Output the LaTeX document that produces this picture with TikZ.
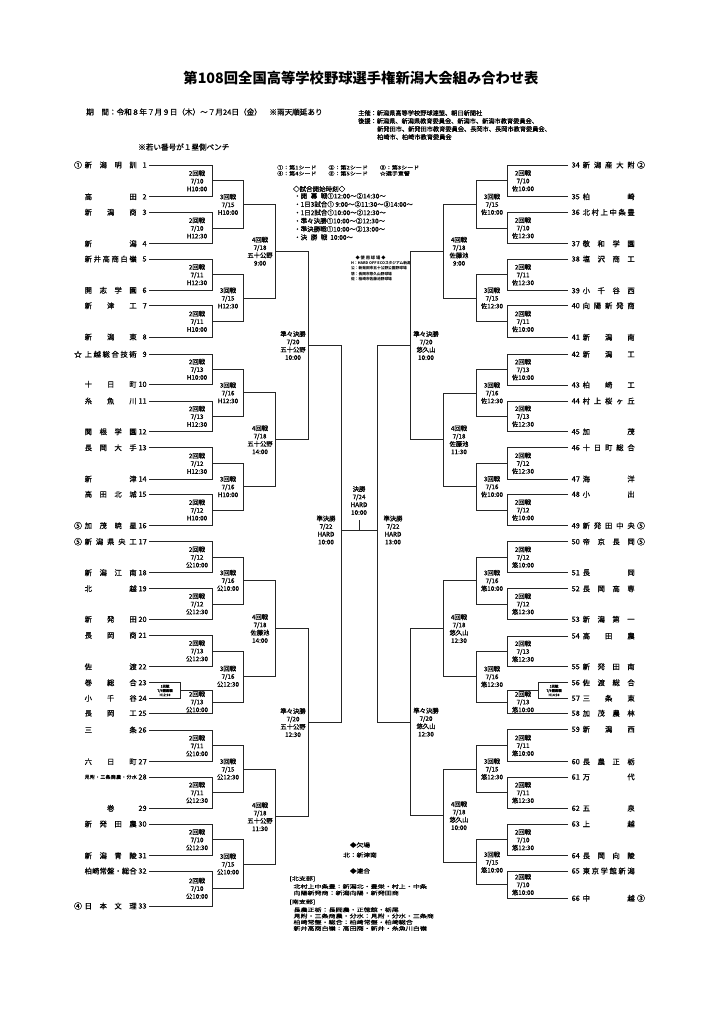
\documentclass[tikz,border=0pt]{standalone}
\usepackage{fontspec}
\setmainfont{Noto Sans CJK JP}
\newfontfamily\jpn[FakeBold=0.7]{Noto Sans CJK JP}
\newfontfamily\jpw[FakeStretch=1.35,FakeBold=0.5]{Noto Sans CJK JP}
\newfontfamily\jpm[FakeStretch=1.2,FakeBold=0.5]{Noto Sans CJK JP}
\usetikzlibrary{calc}
\def\sprd#1{\sprdB#1\sprdend}
\def\sprdB#1#2\sprdend{\ifx\relax#2\relax\hfill#1\hfill\else\sprdA#1#2\sprdend\fi}
\def\sprdA#1#2\sprdend{#1\ifx\relax#2\relax\else\hfill\sprdA#2\sprdend\fi}
\newcommand\lb[3]{#1回戦\\#2\\#3}
\newcommand\mL[5]{%
  \draw[brline] (#2) -- (#2 -| #4) -- (#3 -| #4) -- (#3);
  \coordinate (tmp) at ($(#2)!0.5!(#3)$);
  \coordinate (#1) at (tmp -| #4);
  \node[mlabel] (#1l) at ($(#1)+(-15,0)$) {#5};
}
\newcommand\mR[5]{%
  \draw[brline] (#2) -- (#2 -| #4) -- (#3 -| #4) -- (#3);
  \coordinate (tmp) at ($(#2)!0.5!(#3)$);
  \coordinate (#1) at (tmp -| #4);
  \node[mlabel] (#1l) at ($(#1)+(16,0)$) {#5};
}
\begin{document}
\begin{tikzpicture}[x=1pt,y=-1pt,
  brline/.style={line width=0.8pt, draw=black!85},
  mlabel/.style={font=\jpn\fontsize{6.3}{7.8}\selectfont, align=center, inner sep=0pt},
  tlabel/.style={font=\jpn\fontsize{3.4}{4.3}\selectfont, align=center, inner sep=0pt},
  tname/.style={font=\jpn\fontsize{7.3}{8}\selectfont, inner sep=0pt},
  tmark/.style={font=\jpn\fontsize{8}{8}\selectfont, inner sep=0pt},
  hdtext/.style={anchor=west, inner sep=0pt}]
\useasboundingbox (0,0) rectangle (720,1019);
\fill[white] (0,0) rectangle (720,1019);

% ---------- header ----------
\node[font=\fontsize{14.3}{16}\selectfont\bfseries] (title) at (361,78) {第108回全国高等学校野球選手権新潟大会組み合わせ表};
\node[hdtext, font=\jpn\fontsize{7.6}{9}\selectfont] (kikan) at (86,112) {期　間：令和８年７月９日（木）〜７月24日（金）　※雨天順延あり};
\node[hdtext, font=\jpn\fontsize{6.2}{7}\selectfont] (h1) at (358,113) {主催：新潟県高等学校野球連盟、朝日新聞社};
\node[hdtext, font=\jpn\fontsize{6.2}{7}\selectfont] (h2) at (358,121) {後援：新潟県、新潟県教育委員会、新潟市、新潟市教育委員会、};
\node[hdtext, font=\jpn\fontsize{6.2}{7}\selectfont] (h3) at (377,129) {新発田市、新発田市教育委員会、長岡市、長岡市教育委員会、};
\node[hdtext, font=\jpn\fontsize{6.2}{7}\selectfont] (h4) at (377,137) {柏崎市、柏崎市教育委員会};
\node[hdtext, font=\jpn\fontsize{7.6}{9}\selectfont] (note) at (138,147) {※若い番号が１塁側ベンチ};

% ---------- legend top ----------
\node[hdtext, font=\jpm\fontsize{5}{6}\selectfont] (sd1) at (277,167.5) {①：第1シード　　②：第2シード　　③：第3シード};
\node[hdtext, font=\jpm\fontsize{5}{6}\selectfont] (sd2) at (277,173.5) {④：第4シード　　⑤：第5シード　　☆選手宣誓};
\node[hdtext, font=\jpn\fontsize{6.5}{8}\selectfont] (tm0) at (293,189) {◇試合開始時刻◇};
\node[hdtext, font=\jpn\fontsize{6.5}{8}\selectfont] (tm1) at (294,196) {・\makebox[4.1em][s]{開\hfill 幕\hfill 戦}①12:00〜②14:30〜};
\node[hdtext, font=\jpn\fontsize{6.5}{8}\selectfont] (tm2) at (294,204.3) {・1日3試合①\ 9:00〜②11:30〜③14:00〜};
\node[hdtext, font=\jpn\fontsize{6.5}{8}\selectfont] (tm3) at (294,212.6) {・1日2試合①10:00〜②12:30〜};
\node[hdtext, font=\jpn\fontsize{6.5}{8}\selectfont] (tm4) at (294,220.9) {・準々決勝①10:00〜②12:30〜};
\node[hdtext, font=\jpn\fontsize{6.5}{8}\selectfont] (tm5) at (294,229.1) {・準決勝戦①10:00〜②13:00〜};
\node[hdtext, font=\jpn\fontsize{6.5}{8}\selectfont] (tm6) at (294,237.3) {・\makebox[4.1em][s]{決\hfill 勝\hfill 戦}\ \ 10:00〜};
\node[inner sep=0pt, font=\fontsize{4.2}{5}\selectfont\bfseries] (vh) at (370.5,258.3) {◆\ 使\ 用\ 球\ 場\ ◆};
\node[hdtext, font=\fontsize{3.7}{5}\selectfont\bfseries] (v1) at (351,263.4) {H：HARD OFF ECOスタジアム新潟};
\node[hdtext, font=\fontsize{3.7}{5}\selectfont\bfseries] (v2) at (351,268.5) {公：新発田市五十公野公園野球場};
\node[hdtext, font=\fontsize{3.7}{5}\selectfont\bfseries] (v3) at (351,273.6) {悠：長岡市悠久山野球場};
\node[hdtext, font=\fontsize{3.7}{5}\selectfont\bfseries] (v4) at (351,278.7) {佐：柏崎市佐藤池野球場};

% ---------- legend bottom ----------
\node[inner sep=0pt, font=\jpm\fontsize{5.6}{6}\selectfont] (ke) at (360,845) {◆欠場};
\node[inner sep=0pt, font=\jpm\fontsize{5.6}{6}\selectfont] (ke1) at (360,855) {北：新津南};
\node[inner sep=0pt, font=\jpm\fontsize{5.6}{6}\selectfont] (re) at (360,871) {◆連合};
\node[hdtext, font=\jpw\fontsize{5.2}{6}\selectfont] (re1) at (289.3,878.7) {[北支部]};
\node[hdtext, font=\jpw\fontsize{5.2}{6}\selectfont] (re2) at (293.3,886.5) {北村上中条豊：新潟北・豊栄・村上・中条};
\node[hdtext, font=\jpw\fontsize{5.2}{6}\selectfont] (re3) at (293.3,893) {向陽新発商：新潟向陽・新発田商};
\node[hdtext, font=\jpw\fontsize{5.2}{6}\selectfont] (re4) at (289.3,902) {[南支部]};
\node[hdtext, font=\jpw\fontsize{5.2}{6}\selectfont] (re5) at (293.3,909.8) {長農正栃：長岡農・正徳館・栃尾};
\node[hdtext, font=\jpw\fontsize{5.2}{6}\selectfont] (re6) at (293.3,916) {見附・三条商農・分水：見附・分水・三条商};
\node[hdtext, font=\jpw\fontsize{5.2}{6}\selectfont] (re7) at (293.3,922.2) {柏崎常盤・総合：柏崎常盤・柏崎総合};
\node[hdtext, font=\jpw\fontsize{5.2}{6}\selectfont] (re8) at (293.3,928.4) {新井高商白嶺：高田商・新井・糸魚川白嶺};

% ---------- levels ----------
\coordinate (L1) at (180,0); \coordinate (L2) at (212,0); \coordinate (L3) at (243,0);
\coordinate (L4) at (275,0); \coordinate (L5) at (308,0); \coordinate (L6) at (341,0);
\coordinate (R1) at (538,0); \coordinate (R2) at (507,0); \coordinate (R3) at (476,0);
\coordinate (R4) at (443,0); \coordinate (R5) at (410,0); \coordinate (R6) at (377,0);

% ---------- teams left ----------
\foreach \i/\y/\mk/\nm in {1/165/①/新潟明訓, 2/196.7/{}/高田, 3/212.3/{}/新潟商, 4/243.7/{}/新潟,
  5/259/{}/新井高商白嶺, 6/290.3/{}/開志学園, 7/305.7/{}/新津工, 8/337/{}/新潟東,
  9/354.3/☆/上越総合技術, 10/384.3/{}/十日町, 11/401/{}/糸魚川, 12/431.7/{}/関根学園,
  13/447.7/{}/長岡大手, 14/479/{}/新津, 15/494.3/{}/高田北城, 16/525.7/⑤/加茂暁星,
  17/541.7/⑤/新潟県央工, 18/572.7/{}/新潟江南, 19/588.7/{}/北越, 20/619.3/{}/新発田,
  21/635.3/{}/長岡商, 22/666.7/{}/佐渡, 23/682.7/{}/巻総合, 24/698.3/{}/小千谷, 25/713.3/{}/長岡工,
  26/730/{}/三条, 27/761.7/{}/六日町, 29/808.3/{}/巻, 30/824/{}/新発田農,
  31/855.7/{}/新潟青陵, 32/871/{}/柏崎常盤・総合, 33/906/④/日本文理}{
  \coordinate (T\i) at (149,\y);
  \node[tname, anchor=east] (N\i) at (146.8,\y) {\i};
  \node[tname, anchor=west] (M\i) at (84.5,\y) {\makebox[52pt][s]{\expandafter\sprd\expandafter{\nm}}};
  \node[tmark] (K\i) at (78,\y) {\mk};
}
\coordinate (T28) at (149,777);
\node[tname, anchor=east] (N28) at (146.8,777) {28};
\node[tname, anchor=west] (M28) at (84.5,777) {\makebox[52pt][s]{\fontsize{4.8}{5}\selectfont\sprd{見附・三条商農・分水}}};

% ---------- teams right ----------
\foreach \i/\y/\mk/\nm in {34/165/②/新潟産大附, 35/196.7/{}/柏崎, 36/212.3/{}/北村上中条豊, 37/243.7/{}/敬和学園,
  38/259/{}/塩沢商工, 39/290.7/{}/小千谷西, 40/305.7/{}/向陽新発商, 41/337.3/{}/新潟南,
  42/354.3/{}/新潟工, 43/385/{}/柏崎工, 44/401/{}/村上桜ヶ丘, 45/431.7/{}/加茂,
  46/447.7/{}/十日町総合, 47/479/{}/海洋, 48/494.3/{}/小出, 49/525.7/⑤/新発田中央,
  50/541.7/⑤/帝京長岡, 51/572.7/{}/長岡, 52/588.7/{}/長岡高専, 53/619.3/{}/新潟第一,
  54/636/{}/高田農, 55/666.7/{}/新発田南, 56/682.7/{}/佐渡総合, 57/698.3/{}/三条東, 58/713.3/{}/加茂農林,
  59/729.3/{}/新潟西, 60/761.7/{}/長農正栃, 61/777/{}/万代, 62/808.3/{}/五泉,
  63/824/{}/上越, 64/855.7/{}/長岡向陵, 65/871/{}/東京学館新潟, 66/898.3/③/中越}{
  \coordinate (T\i) at (568,\y);
  \node[tname, anchor=west] (N\i) at (571.5,\y) {\i};
  \node[tname, anchor=west] (M\i) at (582.5,\y) {\makebox[52pt][s]{\expandafter\sprd\expandafter{\nm}}};
  \node[tmark] (K\i) at (641,\y) {\mk};
}

% ---------- left bracket ----------
\mL{a1}{T1}{T2}{L2}{\lb{2}{7/10}{H10:00}}
\mL{a2}{T3}{T4}{L2}{\lb{2}{7/10}{H12:30}}
\mL{b1}{a1}{a2}{L3}{\lb{3}{7/15}{H10:00}}
\mL{a3}{T5}{T6}{L2}{\lb{2}{7/11}{H12:30}}
\mL{a4}{T7}{T8}{L2}{\lb{2}{7/11}{H10:00}}
\mL{b2}{a3}{a4}{L3}{\lb{3}{7/15}{H12:30}}
\mL{c1}{b1}{b2}{L4}{4回戦\\7/18\\五十公野\\9:00}
\mL{a5}{T9}{T10}{L2}{\lb{2}{7/13}{H10:00}}
\mL{a6}{T11}{T12}{L2}{\lb{2}{7/13}{H12:30}}
\mL{b3}{a5}{a6}{L3}{\lb{3}{7/16}{H12:30}}
\mL{a7}{T13}{T14}{L2}{\lb{2}{7/12}{H12:30}}
\mL{a8}{T15}{T16}{L2}{\lb{2}{7/12}{H10:00}}
\mL{b4}{a7}{a8}{L3}{\lb{3}{7/16}{H10:00}}
\mL{c2}{b3}{b4}{L4}{4回戦\\7/18\\五十公野\\14:00}
\mL{q1}{c1}{c2}{L5}{準々決勝\\7/20\\五十公野\\10:00}
\mL{a9}{T17}{T18}{L2}{\lb{2}{7/12}{公10:00}}
\mL{a10}{T19}{T20}{L2}{\lb{2}{7/12}{公12:30}}
\mL{b5}{a9}{a10}{L3}{\lb{3}{7/16}{公10:00}}
\mL{a11}{T21}{T22}{L2}{\lb{2}{7/13}{公12:30}}
\draw[brline] (T23) -- (T23 -| L1) -- (T24 -| L1) -- (T24);
\coordinate (tmp) at ($(T23)!0.5!(T24)$);
\coordinate (z1) at (tmp -| L1);
\node[tlabel] (z1l) at ($(z1)+(-15,0)$) {1回戦\\7/9開幕戦\\H12:00};
\mL{a12}{z1}{T25}{L2}{\lb{2}{7/13}{公10:00}}
\mL{b6}{a11}{a12}{L3}{\lb{3}{7/16}{公12:30}}
\mL{c3}{b5}{b6}{L4}{4回戦\\7/18\\佐藤池\\14:00}
\mL{a13}{T26}{T27}{L2}{\lb{2}{7/11}{公10:00}}
\mL{a14}{T28}{T29}{L2}{\lb{2}{7/11}{公12:30}}
\mL{b7}{a13}{a14}{L3}{\lb{3}{7/15}{公12:30}}
\mL{a15}{T30}{T31}{L2}{\lb{2}{7/10}{公12:30}}
\mL{a16}{T32}{T33}{L2}{\lb{2}{7/10}{公10:00}}
\mL{b8}{a15}{a16}{L3}{\lb{3}{7/15}{公10:00}}
\mL{c4}{b7}{b8}{L4}{4回戦\\7/18\\五十公野\\11:30}
\mL{q2}{c3}{c4}{L5}{準々決勝\\7/20\\五十公野\\12:30}

% ---------- right bracket ----------
\mR{ra1}{T34}{T35}{R2}{\lb{2}{7/10}{佐10:00}}
\mR{ra2}{T36}{T37}{R2}{\lb{2}{7/10}{佐12:30}}
\mR{rb1}{ra1}{ra2}{R3}{\lb{3}{7/15}{佐10:00}}
\mR{ra3}{T38}{T39}{R2}{\lb{2}{7/11}{佐12:30}}
\mR{ra4}{T40}{T41}{R2}{\lb{2}{7/11}{佐10:00}}
\mR{rb2}{ra3}{ra4}{R3}{\lb{3}{7/15}{佐12:30}}
\mR{rc1}{rb1}{rb2}{R4}{4回戦\\7/18\\佐藤池\\9:00}
\mR{ra5}{T42}{T43}{R2}{\lb{2}{7/13}{佐10:00}}
\mR{ra6}{T44}{T45}{R2}{\lb{2}{7/13}{佐12:30}}
\mR{rb3}{ra5}{ra6}{R3}{\lb{3}{7/16}{佐12:30}}
\mR{ra7}{T46}{T47}{R2}{\lb{2}{7/12}{佐12:30}}
\mR{ra8}{T48}{T49}{R2}{\lb{2}{7/12}{佐10:00}}
\mR{rb4}{ra7}{ra8}{R3}{\lb{3}{7/16}{佐10:00}}
\mR{rc2}{rb3}{rb4}{R4}{4回戦\\7/18\\佐藤池\\11:30}
\mR{rq1}{rc1}{rc2}{R5}{準々決勝\\7/20\\悠久山\\10:00}
\mR{ra9}{T50}{T51}{R2}{\lb{2}{7/12}{悠10:00}}
\mR{ra10}{T52}{T53}{R2}{\lb{2}{7/12}{悠12:30}}
\mR{rb5}{ra9}{ra10}{R3}{\lb{3}{7/16}{悠10:00}}
\mR{ra11}{T54}{T55}{R2}{\lb{2}{7/13}{悠12:30}}
\draw[brline] (T56) -- (T56 -| R1) -- (T57 -| R1) -- (T57);
\coordinate (tmp) at ($(T56)!0.5!(T57)$);
\coordinate (z2) at (tmp -| R1);
\node[tlabel] (z2l) at ($(z2)+(16,0)$) {1回戦\\7/9開幕戦\\H14:30};
\mR{ra12}{z2}{T58}{R2}{\lb{2}{7/13}{悠10:00}}
\mR{rb6}{ra11}{ra12}{R3}{\lb{3}{7/16}{悠12:30}}
\mR{rc3}{rb5}{rb6}{R4}{4回戦\\7/18\\悠久山\\12:30}
\mR{ra13}{T59}{T60}{R2}{\lb{2}{7/11}{悠10:00}}
\mR{ra14}{T61}{T62}{R2}{\lb{2}{7/11}{悠12:30}}
\mR{rb7}{ra13}{ra14}{R3}{\lb{3}{7/15}{悠12:30}}
\mR{ra15}{T63}{T64}{R2}{\lb{2}{7/10}{悠12:30}}
\mR{ra16}{T65}{T66}{R2}{\lb{2}{7/10}{悠10:00}}
\mR{rb8}{ra15}{ra16}{R3}{\lb{3}{7/15}{悠10:00}}
\mR{rc4}{rb7}{rb8}{R4}{4回戦\\7/18\\悠久山\\10:00}
\mR{rq2}{rc3}{rc4}{R5}{準々決勝\\7/20\\悠久山\\12:30}

% ---------- semifinals and final ----------
\draw[brline] (q1) -- (q1 -| L6) -- (q2 -| L6) -- (q2);
\draw[brline] (rq1) -- (rq1 -| R6) -- (rq2 -| R6) -- (rq2);
\coordinate (s1) at (341,530); \coordinate (s2) at (377,530);
\coordinate (fm) at (359,530); \coordinate (ft) at (359,519.5);
\draw[brline] (s1) -- (s2);
\draw[brline] (fm) -- (ft);
\node[mlabel] (sfl) at (326,530) {準決勝\\7/22\\HARD\\10:00};
\node[mlabel] (sfr) at (393,530) {準決勝\\7/22\\HARD\\13:00};
\node[mlabel] (fin) at (359,500.5) {決勝\\7/24\\HARD\\10:00};
\end{tikzpicture}
\end{document}
